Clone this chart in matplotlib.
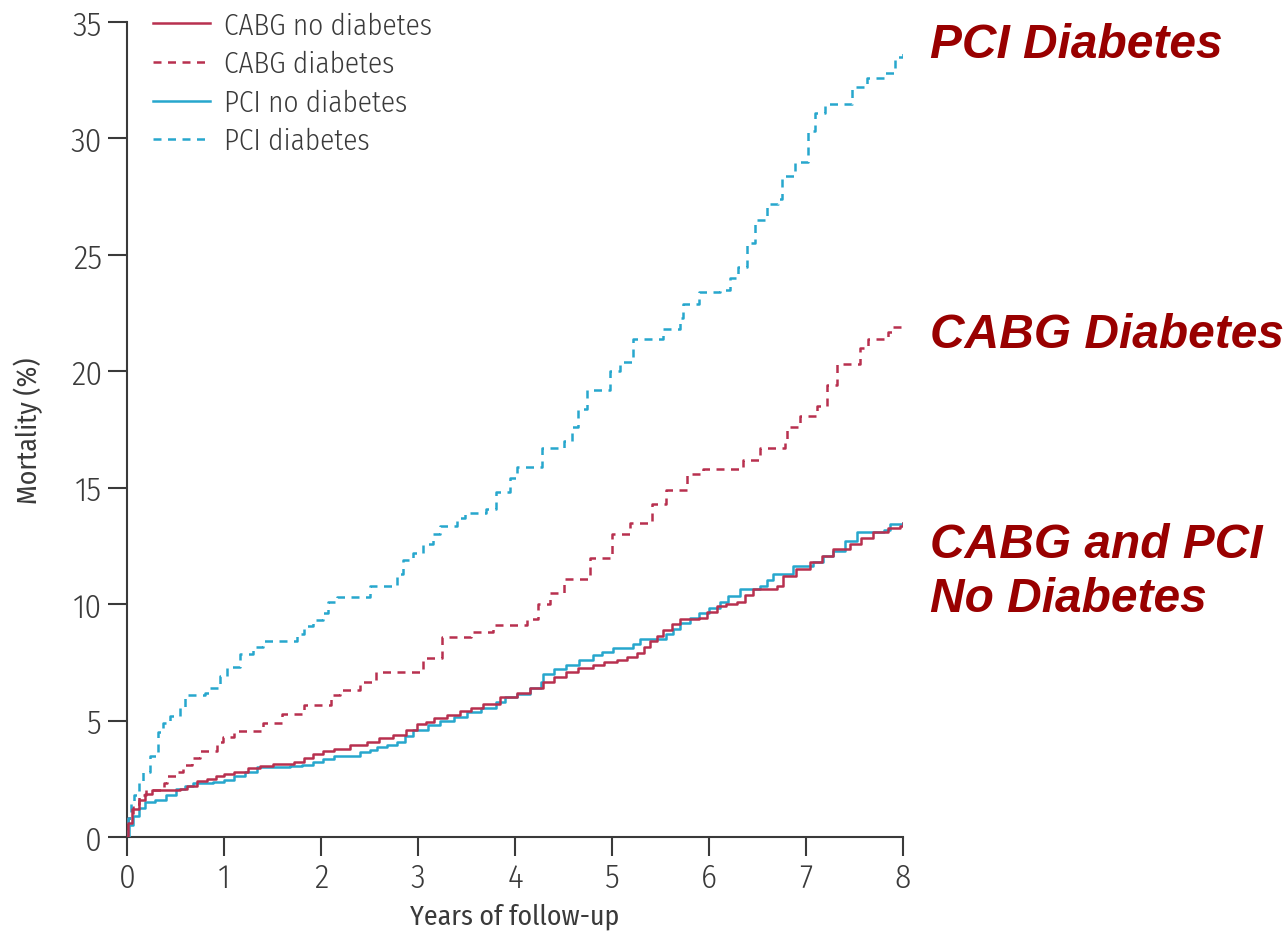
import matplotlib
matplotlib.use("Agg")
import matplotlib.pyplot as plt

# Kaplan-Meier style cumulative mortality (%) by years of follow-up
cabg_nodm_t = [0, 0.01, 0.05, 0.12, 0.19, 0.26, 0.55, 0.62, 0.72, 0.82, 0.92, 1.0, 1.1, 1.25,
               1.37, 1.5, 1.72, 1.82, 1.92, 2.02, 2.13, 2.3, 2.47, 2.6, 2.74, 2.88, 2.99, 3.08,
               3.16, 3.3, 3.43, 3.55, 3.67, 3.85, 4.02, 4.15, 4.29, 4.4, 4.53, 4.65, 4.8, 4.92,
               5.05, 5.15, 5.26, 5.33, 5.39, 5.46, 5.53, 5.62, 5.7, 5.9, 5.98, 6.08, 6.18, 6.29,
               6.37, 6.45, 6.7, 6.76, 6.9, 7.04, 7.16, 7.28, 7.45, 7.57, 7.69, 7.85, 7.97, 8.0]
cabg_nodm_v = [0, 0.6, 1.2, 1.6, 1.85, 2.0, 2.05, 2.2, 2.4, 2.5, 2.6, 2.7, 2.8, 2.95,
               3.05, 3.15, 3.2, 3.4, 3.55, 3.7, 3.8, 3.95, 4.1, 4.25, 4.4, 4.6, 4.85, 4.95,
               5.1, 5.25, 5.4, 5.55, 5.7, 6.0, 6.2, 6.4, 6.65, 6.85, 7.1, 7.25, 7.4, 7.5,
               7.6, 7.75, 7.9, 8.15, 8.4, 8.65, 8.9, 9.15, 9.35, 9.4, 9.65, 9.9, 10.0, 10.1,
               10.4, 10.65, 10.8, 11.2, 11.5, 11.8, 12.05, 12.35, 12.6, 12.85, 13.1, 13.25, 13.35, 13.5]

cabg_dm_t = [0, 0.01, 0.06, 0.12, 0.2, 0.38, 0.41, 0.51, 0.58, 0.67, 0.75, 0.93, 0.99, 1.1,
             1.4, 1.6, 1.82, 2.1, 2.2, 2.4, 2.57, 3.05, 3.25, 3.55, 3.77, 4.12, 4.24, 4.36,
             4.5, 4.77, 5.0, 5.19, 5.41, 5.56, 5.77, 5.94, 6.35, 6.53, 6.78, 6.8, 6.94, 7.11,
             7.22, 7.32, 7.56, 7.64, 7.85, 7.9, 8.0]
cabg_dm_v = [0, 0.8, 1.4, 1.8, 2.0, 2.3, 2.6, 2.8, 3.1, 3.4, 3.7, 4.1, 4.3, 4.55,
             4.9, 5.3, 5.65, 6.1, 6.3, 6.65, 7.1, 7.7, 8.6, 8.8, 9.1, 9.36, 10.0, 10.5,
             11.1, 12.0, 13.0, 13.5, 14.3, 14.9, 15.6, 15.8, 16.2, 16.7, 17.1, 17.6, 18.1, 18.5,
             19.4, 20.3, 21.0, 21.4, 21.7, 21.9, 22.0]

pci_nodm_t = [0, 0.02, 0.06, 0.12, 0.19, 0.29, 0.4, 0.51, 0.6, 0.68, 0.89, 1.0, 1.1, 1.22,
              1.34, 1.68, 1.8, 1.92, 2.02, 2.13, 2.4, 2.5, 2.58, 2.68, 2.78, 2.87, 2.95, 3.1,
              3.23, 3.37, 3.5, 3.65, 3.8, 3.9, 4.02, 4.15, 4.27, 4.29, 4.4, 4.53, 4.66, 4.8,
              4.9, 5.01, 5.15, 5.22, 5.29, 5.56, 5.63, 5.7, 5.8, 5.9, 6.0, 6.11, 6.2, 6.32,
              6.53, 6.6, 6.66, 6.87, 7.07, 7.18, 7.28, 7.4, 7.53, 7.8, 7.87, 8.0]
pci_nodm_v = [0, 0.5, 0.9, 1.25, 1.5, 1.6, 1.8, 2.05, 2.2, 2.3, 2.35, 2.45, 2.6, 2.8,
              3.0, 3.05, 3.1, 3.2, 3.35, 3.5, 3.65, 3.75, 3.85, 3.95, 4.1, 4.35, 4.6, 4.8,
              5.0, 5.15, 5.35, 5.55, 5.8, 6.0, 6.15, 6.4, 6.65, 7.0, 7.2, 7.4, 7.6, 7.8,
              7.95, 8.1, 8.1, 8.3, 8.5, 8.7, 8.95, 9.2, 9.4, 9.6, 9.85, 10.1, 10.35, 10.65,
              10.8, 11.05, 11.3, 11.65, 11.8, 12.05, 12.3, 12.7, 13.1, 13.2, 13.45, 13.5]

pci_dm_t = [0, 0.01, 0.04, 0.07, 0.12, 0.17, 0.24, 0.32, 0.37, 0.44, 0.55, 0.6, 0.8, 0.86,
            0.96, 1.03, 1.17, 1.3, 1.4, 1.75, 1.82, 1.92, 2.02, 2.07, 2.16, 2.5, 2.78, 2.85,
            2.95, 3.05, 3.15, 3.23, 3.4, 3.48, 3.7, 3.8, 3.95, 4.02, 4.28, 4.5, 4.59, 4.65,
            4.74, 4.98, 5.08, 5.22, 5.53, 5.7, 5.73, 5.9, 6.11, 6.22, 6.3, 6.39, 6.47, 6.6,
            6.71, 6.75, 6.89, 7.02, 7.09, 7.2, 7.47, 7.63, 7.81, 7.92, 8.0]
pci_dm_v = [0, 0.8, 1.5, 1.8, 2.3, 2.8, 3.5, 4.5, 4.9, 5.2, 5.6, 6.1, 6.2, 6.4,
            6.9, 7.3, 7.85, 8.15, 8.4, 8.7, 9.05, 9.3, 9.6, 10.1, 10.3, 10.8, 11.3, 11.9,
            12.2, 12.6, 13.0, 13.35, 13.7, 13.9, 14.1, 14.8, 15.4, 15.9, 16.7, 17.0, 17.6, 18.4,
            19.2, 20.0, 20.4, 21.4, 21.8, 22.3, 22.9, 23.4, 23.5, 24.0, 24.5, 25.5, 26.5, 27.2,
            27.4, 28.4, 29.0, 30.3, 31.1, 31.5, 32.2, 32.6, 32.8, 33.5, 33.7]

series_labels = ["CABG no diabetes", "CABG diabetes", "PCI no diabetes", "PCI diabetes"]
x_ticks = [0, 1, 2, 3, 4, 5, 6, 7, 8]
y_ticks = [0, 5, 10, 15, 20, 25, 30, 35]

RED = "#b8304f"
BLUE = "#27a7cd"
INK = "#3a3a3a"
ANNOT = "#990000"

plt.rcParams["font.family"] = ["Fira Sans Condensed", "DejaVu Sans"]
plt.rcParams["font.weight"] = 300

W, H = 1287, 937
fig = plt.figure(figsize=(W / 100, H / 100), dpi=100)
ax = fig.add_axes([127 / W, 1 - 838 / H, (903 - 127) / W, (838 - 23) / H])

dash = (3.2, 2.6)
ax.plot(cabg_nodm_t, cabg_nodm_v, drawstyle="steps-post", color=RED, lw=1.8,
        label=series_labels[0], zorder=4)
ax.plot(cabg_dm_t, cabg_dm_v, drawstyle="steps-post", color=RED, lw=1.8,
        dashes=dash, label=series_labels[1], zorder=3)
ax.plot(pci_nodm_t, pci_nodm_v, drawstyle="steps-post", color=BLUE, lw=1.8,
        label=series_labels[2], zorder=3)
ax.plot(pci_dm_t, pci_dm_v, drawstyle="steps-post", color=BLUE, lw=1.8,
        dashes=dash, label=series_labels[3], zorder=3)

ax.set_xlim(0, 8)
ax.set_ylim(0, 35)
ax.set_xticks(x_ticks)
ax.set_yticks(y_ticks)
ax.set_xticklabels([str(v) for v in x_ticks])
ax.set_yticklabels([str(v) for v in y_ticks])

for side in ("top", "right"):
    ax.spines[side].set_visible(False)
for side in ("left", "bottom"):
    ax.spines[side].set_color(INK)
    ax.spines[side].set_linewidth(1.5)

ax.tick_params(axis="both", direction="out", length=14, width=1.5, color=INK,
               labelcolor=INK, labelsize=24)
ax.tick_params(axis="y", pad=4)
ax.tick_params(axis="x", pad=4)

ax.set_xlabel("Years of follow-up", fontsize=20, color=INK, va="center")
ax.xaxis.set_label_coords(0.5, (838 - 917) / 815)
ax.set_ylabel("Mortality (%)", fontsize=20, color=INK, va="center")
ax.yaxis.set_label_coords((28 - 127) / 776, 0.5)

leg = ax.legend(loc="upper left", bbox_to_anchor=(153 / W, 1 - 12 / H),
                bbox_transform=fig.transFigure, frameon=False, fontsize=21,
                handlelength=1.95, handletextpad=0.5, labelspacing=0.35,
                borderpad=0, borderaxespad=0)
for txt in leg.get_texts():
    txt.set_color(INK)

annot_kw = dict(fontsize=34.5, fontweight="bold", fontstyle="italic", color=ANNOT,
                family=["Liberation Sans", "DejaVu Sans"], ha="left", va="baseline")
fig.text(930 / W, 1 - 58 / H, "PCI Diabetes", **annot_kw)
fig.text(930 / W, 1 - 348 / H, "CABG Diabetes", **annot_kw)
fig.text(930 / W, 1 - 558 / H, "CABG and PCI", **annot_kw)
fig.text(930 / W, 1 - 612 / H, "No Diabetes", **annot_kw)

fig.savefig("out.png", dpi=100, facecolor="white")
